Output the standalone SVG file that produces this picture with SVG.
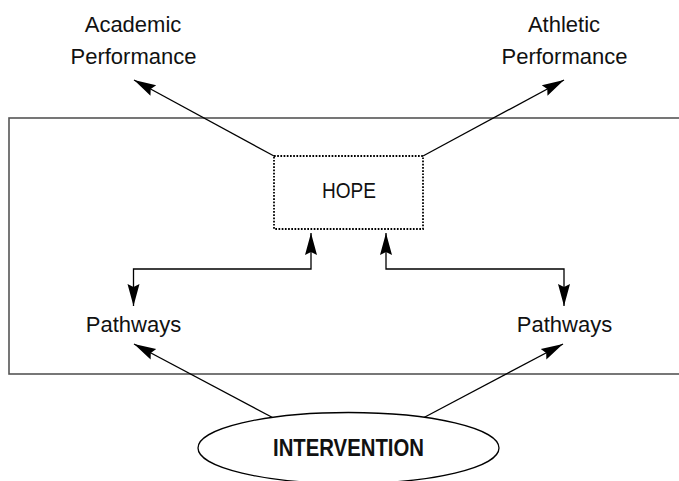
<svg xmlns="http://www.w3.org/2000/svg" width="679" height="481" viewBox="0 0 679 481">
<style>
  .t { font-family: "Liberation Sans", Arial, sans-serif; font-size: 22px; fill: #111; text-anchor: middle; }
  .b { font-size: 23px; font-weight: bold; }
  .c { fill: none; stroke: #000; stroke-width: 1.3; }
</style>
<defs>
  <marker id="ah" markerUnits="userSpaceOnUse" markerWidth="24" markerHeight="14" viewBox="0 -7 24 14" refX="22" refY="0" orient="auto-start-reverse">
    <path d="M0,-6 L22,0 L0,6 L3,0 Z" fill="#000"/>
  </marker>
</defs>
<rect id="frame" x="9" y="118" width="690" height="256" fill="none" stroke="#555" stroke-width="1.6"/>
<g id="academic">
  <text class="t" x="133" y="32">Academic</text>
  <text class="t" x="133.5" y="64">Performance</text>
</g>
<g id="athletic">
  <text class="t" x="564" y="32">Athletic</text>
  <text class="t" x="564.5" y="64">Performance</text>
</g>
<g id="hope">
  <rect x="274" y="156" width="149" height="73" fill="none" stroke="#000" stroke-width="1.8" stroke-dasharray="1.7 1.5"/>
  <text class="t" x="349" y="198" textLength="54" lengthAdjust="spacingAndGlyphs">HOPE</text>
</g>
<g id="pathways-left">
  <text class="t" x="133.5" y="332">Pathways</text>
</g>
<g id="pathways-right">
  <text class="t" x="564.5" y="332">Pathways</text>
</g>
<g id="intervention">
  <ellipse cx="348.5" cy="448" rx="150.5" ry="35.5" fill="#fff" stroke="#000" stroke-width="1.3"/>
  <text class="t b" x="348.5" y="456" textLength="151" lengthAdjust="spacingAndGlyphs">INTERVENTION</text>
</g>
<g id="connectors">
  <line class="c" x1="274" y1="156" x2="134" y2="80" marker-end="url(#ah)"/>
  <line class="c" x1="423" y1="156" x2="564" y2="80" marker-end="url(#ah)"/>
  <path class="c" d="M311,233 L311,269 L133.5,269 L133.5,306" marker-start="url(#ah)" marker-end="url(#ah)"/>
  <path class="c" d="M386,233 L386,269 L564,269 L564,306" marker-start="url(#ah)" marker-end="url(#ah)"/>
  <line class="c" x1="272.5" y1="417.5" x2="134" y2="344" marker-end="url(#ah)"/>
  <line class="c" x1="424" y1="417.5" x2="563" y2="344" marker-end="url(#ah)"/>
</g>
</svg>
